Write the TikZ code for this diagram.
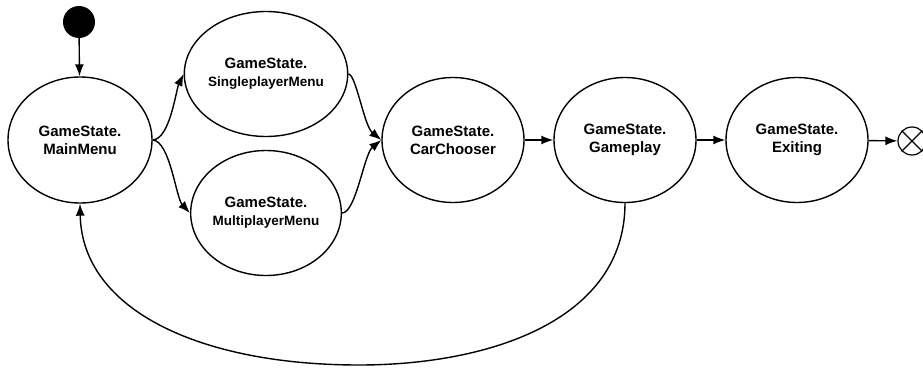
\documentclass[tikz,border=0pt]{standalone}
\usepackage{fontspec}
\setmainfont{Liberation Sans}
\usetikzlibrary{shapes.geometric,arrows.meta}
\begin{document}
\begin{tikzpicture}[x=1pt,y=-1pt,
  state/.style={ellipse,draw,line width=1.4pt,inner sep=0pt,
    minimum width=142pt,minimum height=125pt,align=center,
    font=\bfseries\fontsize{15}{18}\selectfont},
  flow/.style={line width=1.4pt,-{Latex[length=12pt,width=9pt]}}]
\useasboundingbox (0,0) rectangle (923,367);

\node[circle,fill=black,minimum size=32pt,inner sep=0pt] (init) at (79,22) {};
\node[state,minimum width=144pt,minimum height=126pt] (main) at (80,140) {GameState.\\MainMenu};
\node[state] (single) at (266,74) {GameState.\\{\fontsize{13.5}{16}\selectfont SingleplayerMenu}};
\node[state] (multi) at (266,213) {GameState.\\{\fontsize{13.5}{16}\selectfont MultiplayerMenu}};
\node[state] (car) at (453,140) {GameState.\\CarChooser};
\node[state] (play) at (625,140) {GameState.\\Gameplay};
\node[state] (exit) at (797,140) {GameState.\\Exiting};
\node[circle,draw,line width=1.2pt,minimum size=28pt,inner sep=0pt] (final) at (912,141) {};
\draw[line width=1.2pt] (final.north west) -- (final.south east)
  (final.north east) -- (final.south west);

\draw[flow] (init) -- (main);
\draw[flow] (main.east) .. controls (170,139) and (176,90) .. (single.west);
\draw[flow] (main.east) .. controls (170,141) and (176,198) .. (multi.west);
\draw[flow] (single.east) .. controls (356,74) and (364,126) .. (car.west);
\draw[flow] (multi.east) .. controls (356,213) and (364,154) .. (car.west);
\draw[flow] (car) -- (play);
\draw[flow] (play) -- (exit);
\draw[flow] (exit) -- (final);
\draw[flow] (play.south) .. controls (625,320) and (490,365) .. (359,365)
  .. controls (200,365) and (82,310) .. (main.south);
\end{tikzpicture}
\end{document}
